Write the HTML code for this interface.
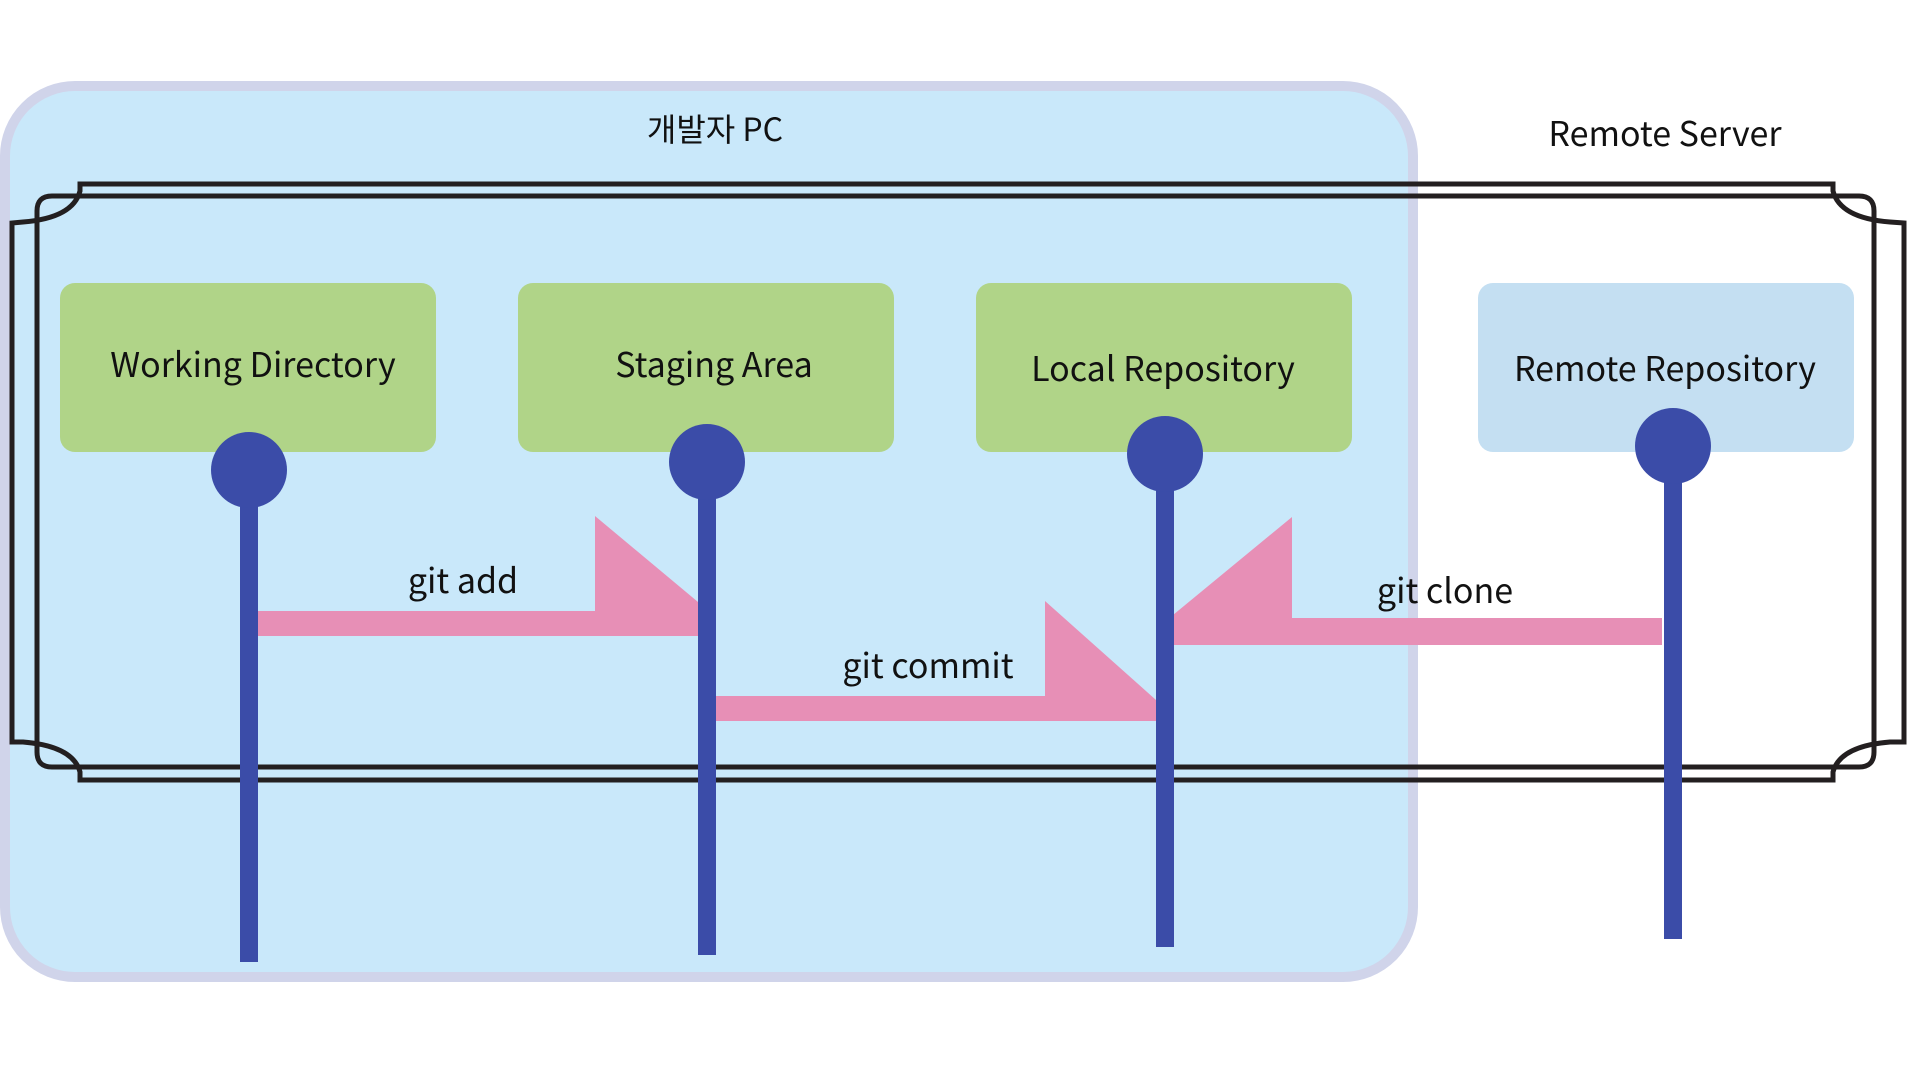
<!DOCTYPE html>
<html><head><meta charset="utf-8"><style>
html,body{margin:0;padding:0;background:#fff;}
svg{display:block;}
text{font-family:"Noto Sans CJK KR","Liberation Sans",sans-serif;fill:#111;}
</style></head><body>
<svg width="1920" height="1080" viewBox="0 0 1920 1080" xmlns="http://www.w3.org/2000/svg">
<rect x="5" y="86" width="1408" height="891" rx="70" fill="#c9e8fa" stroke="#d0d4ea" stroke-width="10"/>
<text x="715" y="141" font-size="32" text-anchor="middle">개발자 PC</text>
<text x="1665" y="146" font-size="34" text-anchor="middle">Remote Server</text>
<g fill="none" stroke="#231f20" stroke-width="5">
<!-- inner frame -->
<path d="M52,196 L1859,196 Q1874,196 1874,211 L1874,752 Q1874,767 1859,767 L52,767 Q37,767 37,752 L37,211 Q37,196 52,196 Z"/>
<!-- outer pieces -->
<path d="M80,184 L1833,184 L1833,191 Q1840,218 1890,222 L1904,223 L1904,742 L1890,742 Q1840,746 1833,772 L1833,780 L80,780 L80,772 Q73,746 23,742 L12,742 L12,223 L23,222 Q73,218 80,191 Z"/>
</g>
<g>
<rect x="60" y="283" width="376" height="169" rx="15" fill="#b0d488"/>
<rect x="518" y="283" width="376" height="169" rx="15" fill="#b0d488"/>
<rect x="976" y="283" width="376" height="169" rx="15" fill="#b0d488"/>
<rect x="1478" y="283" width="376" height="169" rx="15" fill="#c4dff2"/>
</g>
<g font-size="34" text-anchor="middle">
<text x="253" y="377">Working Directory</text>
<text x="714" y="377">Staging Area</text>
<text x="1163" y="381">Local Repository</text>
<text x="1665" y="381">Remote Repository</text>
</g>
<g fill="#e78fb6">
<polygon points="258,611 595,611 595,516 698,602 698,636 258,636"/>
<polygon points="715,696 1045,696 1045,601 1156,700 1156,721 715,721"/>
<polygon points="1662,618 1292,618 1292,517 1173,615 1173,645 1662,645"/>
</g>
<g fill="#3b4ca8">
<rect x="240" y="470" width="18" height="492"/>
<rect x="698" y="462" width="18" height="493"/>
<rect x="1156" y="454" width="18" height="493"/>
<rect x="1664" y="446" width="18" height="493"/>
<circle cx="249" cy="470" r="38"/>
<circle cx="707" cy="462" r="38"/>
<circle cx="1165" cy="454" r="38"/>
<circle cx="1673" cy="446" r="38"/>
</g>
<g font-size="34" text-anchor="middle">
<text x="463" y="593">git add</text>
<text x="928" y="678">git commit</text>
<text x="1445" y="603">git clone</text>
</g>
</svg>
</body></html>
